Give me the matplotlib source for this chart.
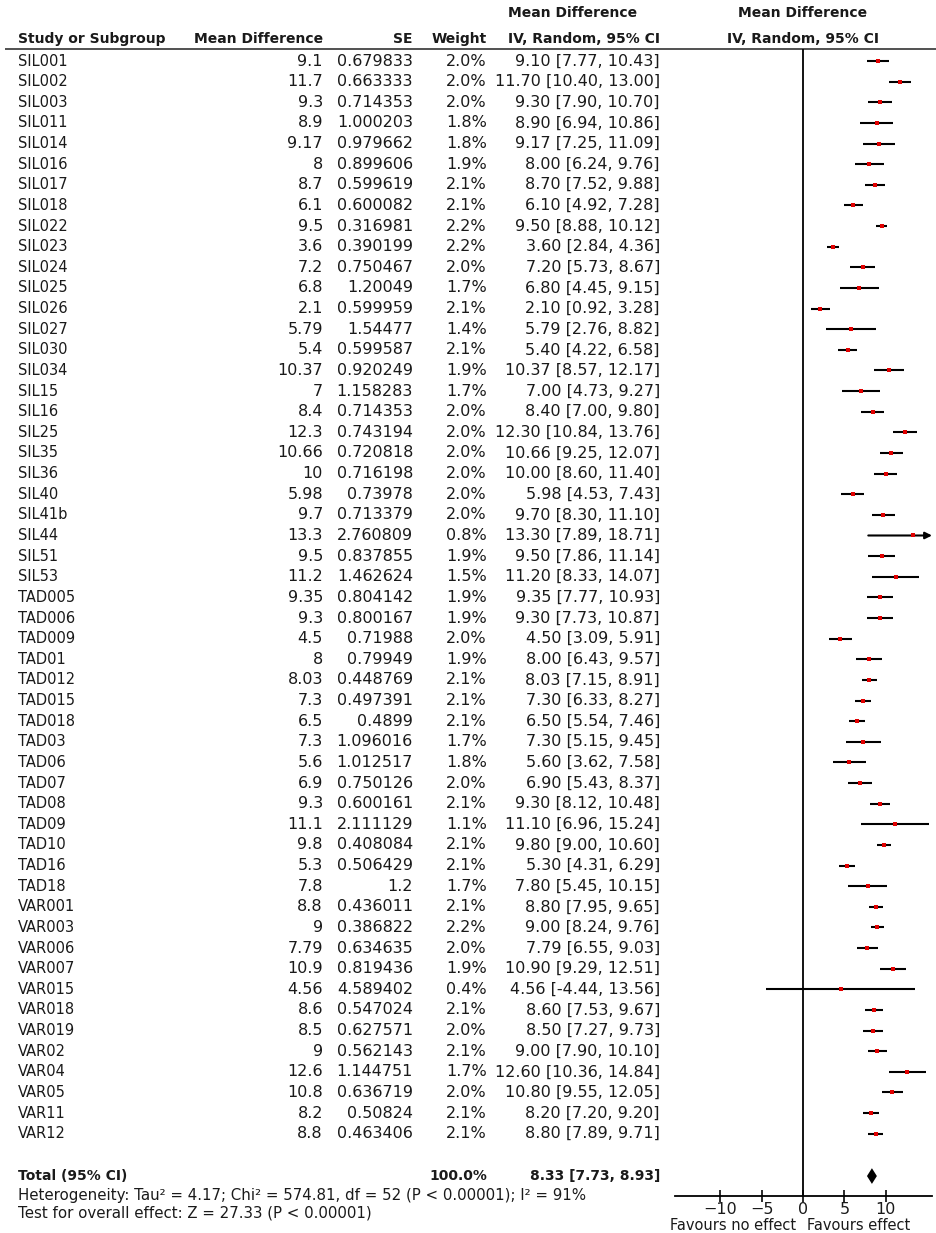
import numpy as np
import matplotlib
matplotlib.use("Agg")
import matplotlib.pyplot as plt

plt.rcParams["font.family"] = ["DejaVu Sans"]

# Study data
studies = ["SIL001", "SIL002", "SIL003", "SIL011", "SIL014", "SIL016", "SIL017", "SIL018",
           "SIL022", "SIL023", "SIL024", "SIL025", "SIL026", "SIL027", "SIL030", "SIL034",
           "SIL15", "SIL16", "SIL25", "SIL35", "SIL36", "SIL40", "SIL41b", "SIL44", "SIL51",
           "SIL53", "TAD005", "TAD006", "TAD009", "TAD01", "TAD012", "TAD015", "TAD018",
           "TAD03", "TAD06", "TAD07", "TAD08", "TAD09", "TAD10", "TAD16", "TAD18", "VAR001",
           "VAR003", "VAR006", "VAR007", "VAR015", "VAR018", "VAR019", "VAR02", "VAR04",
           "VAR05", "VAR11", "VAR12"]
md_txt = ["9.1", "11.7", "9.3", "8.9", "9.17", "8", "8.7", "6.1", "9.5", "3.6", "7.2", "6.8",
          "2.1", "5.79", "5.4", "10.37", "7", "8.4", "12.3", "10.66", "10", "5.98", "9.7",
          "13.3", "9.5", "11.2", "9.35", "9.3", "4.5", "8", "8.03", "7.3", "6.5", "7.3", "5.6",
          "6.9", "9.3", "11.1", "9.8", "5.3", "7.8", "8.8", "9", "7.79", "10.9", "4.56", "8.6",
          "8.5", "9", "12.6", "10.8", "8.2", "8.8"]
se_txt = ["0.679833", "0.663333", "0.714353", "1.000203", "0.979662", "0.899606", "0.599619",
          "0.600082", "0.316981", "0.390199", "0.750467", "1.20049", "0.599959", "1.54477",
          "0.599587", "0.920249", "1.158283", "0.714353", "0.743194", "0.720818", "0.716198",
          "0.73978", "0.713379", "2.760809", "0.837855", "1.462624", "0.804142", "0.800167",
          "0.71988", "0.79949", "0.448769", "0.497391", "0.4899", "1.096016", "1.012517",
          "0.750126", "0.600161", "2.111129", "0.408084", "0.506429", "1.2", "0.436011",
          "0.386822", "0.634635", "0.819436", "4.589402", "0.547024", "0.627571", "0.562143",
          "1.144751", "0.636719", "0.50824", "0.463406"]
weights = [2.0, 2.0, 2.0, 1.8, 1.8, 1.9, 2.1, 2.1, 2.2, 2.2, 2.0, 1.7, 2.1, 1.4, 2.1, 1.9,
           1.7, 2.0, 2.0, 2.0, 2.0, 2.0, 2.0, 0.8, 1.9, 1.5, 1.9, 1.9, 2.0, 1.9, 2.1, 2.1,
           2.1, 1.7, 1.8, 2.0, 2.1, 1.1, 2.1, 2.1, 1.7, 2.1, 2.2, 2.0, 1.9, 0.4, 2.1, 2.0,
           2.1, 1.7, 2.0, 2.1, 2.1]

total_weight = 100.0
total_md, total_lo, total_hi = 8.33, 7.73, 8.93
het_text = "Heterogeneity: Tau² = 4.17; Chi² = 574.81, df = 52 (P < 0.00001); I² = 91%"
test_text = "Test for overall effect: Z = 27.33 (P < 0.00001)"
ticks = [-10, -5, 0, 5, 10]

md = np.array([float(v) for v in md_txt])
se = np.array([float(v) for v in se_txt])
lo = md - 1.96 * se
hi = md + 1.96 * se

# Layout (pixels / rows)
W, H = 937, 1233
ROW0, ROWH = 61, 20.63
XMIN, XMAX = -15.5, 15.6
n = len(studies)
total_row = 54.05
het_row, test_row = 54.97, 55.84
axis_row = 55.02
rule_row = -0.58
txt = "#1a1a1a"
fs_num = 11.5   # numeric columns
fs_name = 10.5  # study labels / footer
fs_b = 10       # bold headers

# column anchors (px)
X_NAME, X_MD, X_SE, X_W, X_CI, X_CIH, X_PLOT = 18, 323, 413, 487, 660, 508, 803

fig = plt.figure(figsize=(W / 100, H / 100), dpi=100)
fig.patch.set_facecolor("white")

ylim = ((H - ROW0) / ROWH, -ROW0 / ROWH)

ax = fig.add_axes([0, 0, 1, 1])
ax.set_xlim(0, W)
ax.set_ylim(*ylim)
ax.axis("off")

fx = fig.add_axes([675 / W, 0, 257 / W, 1])
fx.set_xlim(XMIN, XMAX)
fx.set_ylim(*ylim)
fx.patch.set_alpha(0)

# Headers
hy1, hy2 = -2.33, -1.07
bold = dict(fontsize=fs_b, fontweight="bold", va="center", color=txt)
ax.text(X_NAME, hy2, "Study or Subgroup", **bold)
ax.text(X_MD, hy2, "Mean Difference", ha="right", **bold)
ax.text(X_SE, hy2, "SE", ha="right", **bold)
ax.text(X_W, hy2, "Weight", ha="right", **bold)
ax.text(X_CIH, hy1, "Mean Difference", **bold)
ax.text(X_CIH, hy2, "IV, Random, 95% CI", **bold)
ax.text(X_PLOT, hy1, "Mean Difference", ha="center", **bold)
ax.text(X_PLOT, hy2, "IV, Random, 95% CI", ha="center", **bold)
ax.hlines(rule_row, 5, W, color="#333333", linewidth=1.2)

# Study rows
for i in range(n):
    ax.text(X_NAME, i, studies[i], fontsize=fs_name, va="center", color=txt)
    ax.text(X_MD, i, md_txt[i], fontsize=fs_num, va="center", ha="right", color=txt)
    ax.text(X_SE, i, se_txt[i], fontsize=fs_num, va="center", ha="right", color=txt)
    ax.text(X_W, i, f"{weights[i]:.1f}%", fontsize=fs_num, va="center", ha="right", color=txt)
    ax.text(X_CI, i, f"{md[i]:.2f} [{lo[i]:.2f}, {hi[i]:.2f}]", fontsize=fs_num,
            va="center", ha="right", color=txt)

# Total row
ax.text(X_NAME, total_row, "Total (95% CI)", **bold)
ax.text(X_W, total_row, f"{total_weight:.1f}%", ha="right", **bold)
ax.text(X_CI, total_row, f"{total_md:.2f} [{total_lo:.2f}, {total_hi:.2f}]", ha="right", **bold)
ax.text(X_NAME, het_row, het_text, fontsize=10.8, va="center", color=txt)
ax.text(X_NAME, test_row, test_text, fontsize=10.8, va="center", color=txt)

# Forest plot
rows = np.arange(n)
fx.vlines(0, rule_row, axis_row, color="black", linewidth=1.3)
for i in rows:
    left = max(lo[i], XMIN + 0.2)
    if hi[i] > XMAX:
        fx.annotate("", xy=(XMAX, i), xytext=(left, i),
                    arrowprops=dict(arrowstyle="-|>", color="black", lw=1.5,
                                    mutation_scale=10, shrinkA=0, shrinkB=0))
    else:
        fx.hlines(i, left, hi[i], color="black", linewidth=1.5)
fx.plot(md, rows, "s", color="#e00000", markersize=2.6, markeredgewidth=0, zorder=5)

dh = 0.38
fx.fill([total_lo, total_md, total_hi, total_md],
        [total_row, total_row - dh, total_row, total_row + dh],
        color="black", linewidth=0)

for s in ["top", "left", "right"]:
    fx.spines[s].set_visible(False)
fx.spines["bottom"].set_position(("data", axis_row))
fx.spines["bottom"].set_linewidth(1.3)
fx.set_yticks([])
fx.set_xticks(ticks)
fx.tick_params(axis="x", direction="inout", length=9, width=1.3, labelsize=fs_num, pad=0,
               colors=txt)

fx.text(-0.9, 56.47, "Favours no effect", fontsize=fs_name, va="center", ha="right", color=txt)
fx.text(0.5, 56.47, "Favours effect", fontsize=fs_name, va="center", ha="left", color=txt)

fig.savefig("out.png", dpi=100, facecolor="white")
